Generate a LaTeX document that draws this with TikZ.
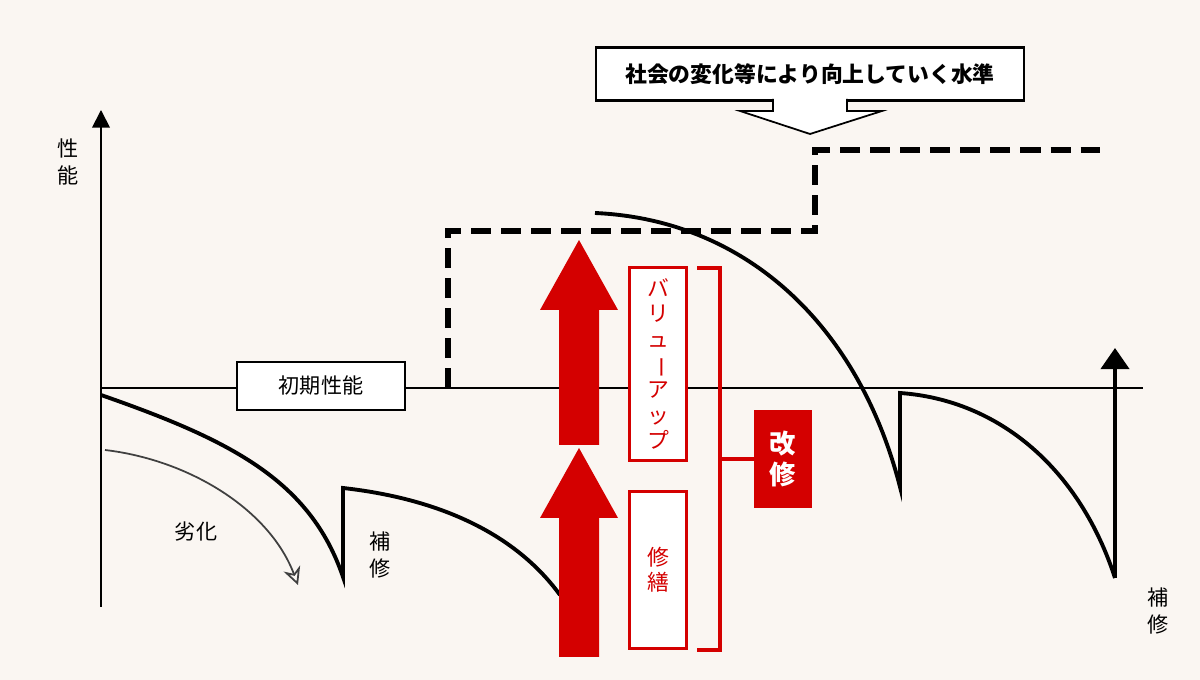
\documentclass[tikz,border=0pt]{standalone}
\usepackage{fontspec}
\setmainfont{Noto Sans CJK JP}
\usepackage{tikz}
\usetikzlibrary{arrows.meta}
\usetikzlibrary{positioning}
\definecolor{bgcol}{HTML}{FAF6F2}
\definecolor{kred}{HTML}{D40000}
\tikzset{box/.style = {draw, fill=white, line width=0.4pt, inner sep=0, font=\fontsize{6}{7}\selectfont},
  redbox/.style = {draw=kred, fill=white, line width=0.7pt, inner sep=0, text=kred, align=center, font=\fontsize{6.2}{7.2}\selectfont},
  vtext/.style = {align=center, font=\fontsize{6}{7.6}\selectfont},
  curve/.style = {line width=1.1pt},
  level/.style = {line width=1.5pt, dash pattern=on 0.2cm off 0.1cm}}
\newcommand{\vbar}{\rotatebox[origin=c]{-90}{ー}}
\newcommand{\blockarrow}[2]{%
  \fill [kred] (559, #1) -- (599, #1) -- (599, #2+70) -- (618, #2+70) -- (579, #2) -- (540, #2+70) -- (559, #2+70) -- cycle;}

\begin{document}
\begin{tikzpicture}[x=0.01cm, y=-0.01cm]
  \fill [bgcol] (0, 0) rectangle (1200, 680);

  % axes
  \coordinate (o) at (101, 388);
  \coordinate (ytop) at (101, 110);
  \coordinate (ybot) at (101, 607);
  \coordinate (xend) at (1143, 388);
  \draw [line width=0.5pt, -{Triangle[width=5pt, length=5pt]}] (ybot) -- (ytop);
  \draw [line width=0.5pt] (o) -- (xend);
  \node [vtext] (perf) at (68, 162) {性\\能};

  \node [box, minimum width=1.68cm, minimum height=0.48cm] (init) at (321, 386) {初期性能};

  % rising level
  \draw [level] (448, 388) -- (448, 231) -- (815, 231) -- (815, 150) -- (1100, 150);

  \node [box, draw, line width=0.7pt, minimum width=4.28cm, minimum height=0.53cm, font=\bfseries\fontsize{6.2}{7}\selectfont] (level) at (810, 74) {社会の変化等により向上していく水準};
  \coordinate (tip) at (810, 134);
  \draw [fill=white, line width=0.5pt] (773, 99) -- (773, 111) -- (740, 111) -- (tip) -- (882, 111) -- (847, 111) -- (847, 99);
  \fill [white] (773.6, 99) rectangle (846.4, 112);

  % deterioration
  \draw [curve] (101, 395) .. controls (230, 440) and (310, 480) .. (343, 577) -- (343, 488)
    .. controls (450, 500) and (520, 540) .. (560, 595);
  \draw [curve] (595, 213) .. controls (750, 220) and (860, 330) .. (900, 487) -- (900, 393)
    .. controls (1000, 400) and (1080, 470) .. (1115, 578);
  \draw [line width=1.1pt, -{Triangle[width=8pt, length=6pt]}] (1115, 578) -- (1115, 348);

  \coordinate (d0) at (105, 450);
  \coordinate (d1) at (298, 585);
  \draw [line width=0.5pt, black!75, -{Stealth[width=5pt, length=5pt, open]}] (d0) .. controls (190, 460) and (270, 510) .. (d1);
  \node [font=\fontsize{6}{7}\selectfont] (decay) at (196, 532) {劣化};
  \node [vtext] (fix1) at (380, 555) {補\\修};
  \node [vtext] (fix2) at (1158, 611) {補\\修};

  % improvement
  \blockarrow{657}{448}
  \blockarrow{445}{240}
  \node [redbox, minimum width=0.57cm, minimum height=1.93cm] (value) at (658, 364)
    {バ\\リ\\ュ\\\vbar\\ア\\ッ\\プ};
  \node [redbox, minimum width=0.57cm, minimum height=1.57cm] (repair) at (658, 570) {修\\繕};
  \draw [kred, line width=0.9pt] (697, 268) -- (720, 268) -- (720, 650) -- (697, 650);
  \node [fill=kred, text=white, minimum width=0.57cm, minimum height=0.98cm, inner sep=0, align=center,
    font=\bfseries\fontsize{7.5}{9}\selectfont] (reno) at (783, 459) {改\\修};
  \draw [kred, line width=0.9pt] (720, 459) -- (reno.west);
\end{tikzpicture}
\end{document}
